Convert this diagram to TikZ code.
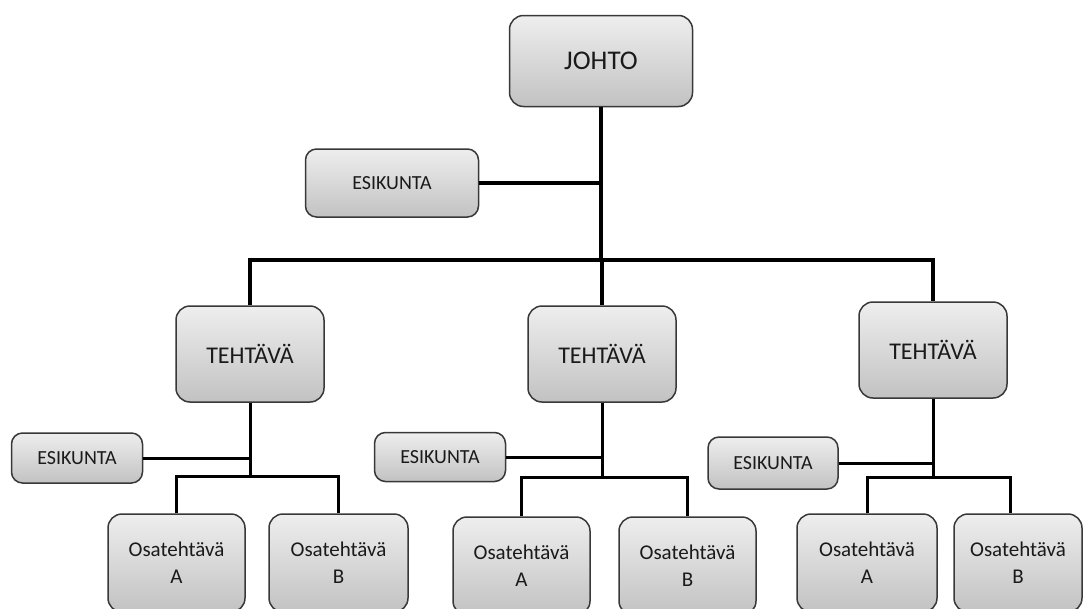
\documentclass[tikz,border=0pt]{standalone}
\usepackage{fontspec}
\setmainfont{Carlito}
\usetikzlibrary{calc}
\definecolor{boxtop}{HTML}{EEEEEE}
\definecolor{boxbot}{HTML}{C2C2C2}
\definecolor{boxline}{HTML}{383838}
\definecolor{txt}{HTML}{1A1A1A}
\tikzset{
  box/.style={draw=boxline, line width=1.5pt, rounded corners=14pt,
    top color=boxtop, bottom color=boxbot, text=txt, align=center,
    inner sep=0pt, anchor=center},
  bigbox/.style={box, font=\fontsize{27}{30}\selectfont},
  taskbox/.style={box, font=\fontsize{24}{28}\selectfont, minimum width=148pt, minimum height=96pt},
  esbox/.style={box, rounded corners=11pt, font=\fontsize{20}{24}\selectfont},
  subbox/.style={box, font=\fontsize{21}{27}\selectfont, minimum height=98pt},
  conn/.style={draw=black, line width=4pt},
  subconn/.style={draw=black, line width=3pt}
}
\begin{document}
\begin{tikzpicture}[x=1pt,y=-1pt]
\useasboundingbox (0,0) rectangle (1084,608);
\clip (0,0) rectangle (1084,608);
% top level
\node[bigbox, minimum width=183pt, minimum height=91pt] (johto) at (601,61) {JOHTO};
\node[esbox, minimum width=173pt, minimum height=68pt] (es0) at (392,183) {ESIKUNTA};
\node[taskbox] (t1) at (250,354) {TEHTÄVÄ};
\node[taskbox] (t2) at (602,354) {TEHTÄVÄ};
\node[taskbox] (t3) at (933,350) {TEHTÄVÄ};
\coordinate (bus) at (601,260);
\draw[conn] (johto.south) -- (bus);
\draw[conn] (es0.east) -- (es0.east -| johto.south);
\draw[conn] (t1.north) |- (bus) -| (t3.north);
\draw[conn] (bus) -- (bus -| t2.north) -- (t2.north);
% subtree 1
\node[esbox, minimum width=131pt, minimum height=50pt] (e1) at (77,458) {ESIKUNTA};
\node[subbox, minimum width=137pt] (a1) at (176.5,563) {Osatehtävä\\A};
\node[subbox, minimum width=139pt] (b1) at (338.5,563) {Osatehtävä\\B};
\coordinate (k1) at (249,476);
\draw[subconn] (t1.south) -- (t1.south |- k1);
\draw[subconn] (e1.east) -- (e1.east -| t1.south);
\draw[subconn] (a1.north) |- (t1.south |- k1) -| (b1.north);
% subtree 2
\node[esbox, minimum width=131pt, minimum height=49pt] (e2) at (440,457) {ESIKUNTA};
\node[subbox, minimum width=137pt] (a2) at (521.5,566) {Osatehtävä\\A};
\node[subbox, minimum width=137pt] (b2) at (687.5,566) {Osatehtävä\\B};
\coordinate (k2) at (602,477);
\draw[subconn] (t2.south) -- (t2.south |- k2);
\draw[subconn] (e2.east) -- (e2.east -| t2.south);
\draw[subconn] (a2.north) |- (t2.south |- k2) -| (b2.north);
% subtree 3
\node[esbox, minimum width=130pt, minimum height=52pt] (e3) at (773,463) {ESIKUNTA};
\node[subbox, minimum width=140pt] (a3) at (867,563) {Osatehtävä\\A};
\node[subbox, minimum width=128pt] (b3) at (1018,563) {Osatehtävä\\B};
\coordinate (k3) at (933,477);
\draw[subconn] (t3.south) -- (t3.south |- k3);
\draw[subconn] (e3.east) -- (e3.east -| t3.south);
\draw[subconn] (a3.north) |- (t3.south |- k3) -| ([xshift=-8pt]b3.north);
\end{tikzpicture}
\end{document}
